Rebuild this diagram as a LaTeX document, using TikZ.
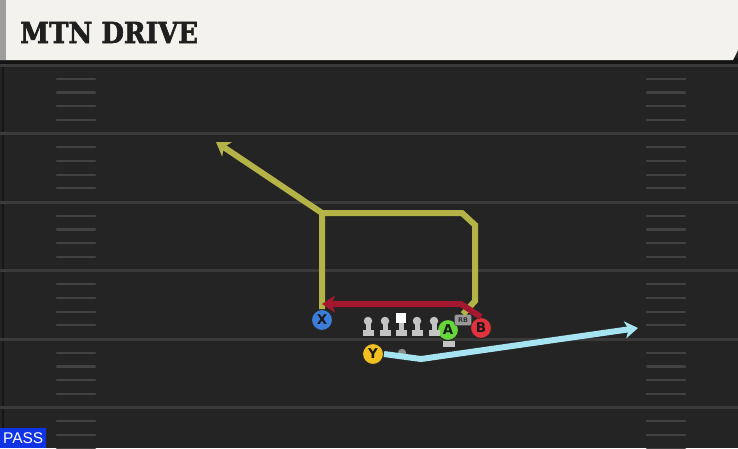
\documentclass[tikz,border=0pt]{standalone}
\usepackage{fontspec}
\setmainfont{DejaVu Sans}
\newfontfamily\titlefont[FakeBold=2]{DejaVu Serif Condensed Bold}
\newfontfamily\passfont{Liberation Sans}
\usetikzlibrary{arrows.meta}
\definecolor{fieldbg}{HTML}{242424}
\definecolor{headbg}{HTML}{F4F2EC}
\definecolor{yardline}{HTML}{3A3A3A}
\definecolor{hashc}{HTML}{424242}
\definecolor{olive}{HTML}{B3B347}
\definecolor{routered}{HTML}{A3182E}
\definecolor{routeblue}{HTML}{A6E4F2}
\definecolor{pblue}{HTML}{3B7DD8}
\definecolor{pyellow}{HTML}{F0C11E}
\definecolor{pgreen}{HTML}{66D63A}
\definecolor{pred}{HTML}{E2323E}
\definecolor{lineman}{HTML}{C4C4C4}
\definecolor{passblue}{HTML}{1133E6}
\tikzset{
  yardl/.style={draw=yardline, line width=3pt},
  hashl/.style={draw=hashc, line width=2.2pt, line cap=round},
  route/.style={line width=6pt, line join=miter, -{Stealth[length=13pt,width=17pt,inset=3.5pt]}},
  routenoarrow/.style={line width=6pt, line join=miter},
  player/.style={circle, draw=black!85, line width=1pt, minimum size=21pt, inner sep=0pt, font=\bfseries\fontsize{13.5}{13.5}\selectfont, text=black!90},
  manhead/.style={circle, fill=lineman, minimum size=8.5pt, inner sep=0pt},
}
\begin{document}
\begin{tikzpicture}[x=1pt,y=-1pt]
\useasboundingbox (0,0) rectangle (738,448);
% field
\fill[fieldbg] (0,0) rectangle (738,448);
\draw[black!40!fieldbg, line width=1.5pt] (3,64) -- (3,448);
% yard lines
\foreach \y in {65,133.5,202,270.5,339,407.5} {
  \draw[yardl] (0,\y) -- (738,\y);
}
% hashes
\foreach \b in {65,133.5,202,270.5,339} {
  \foreach \k in {1,2,3,4} {
    \draw[hashl] (57,\b+\k*13.7) -- (95,\b+\k*13.7);
    \draw[hashl] (647,\b+\k*13.7) -- (685,\b+\k*13.7);
  }
}
\foreach \k in {1,2,3} {
  \draw[hashl] (57,407.5+\k*13.7) -- (95,407.5+\k*13.7);
  \draw[hashl] (647,407.5+\k*13.7) -- (685,407.5+\k*13.7);
}
% header
\fill[black!92] (0,58) rectangle (738,64);
\fill[headbg] (0,0) -- (738,0) -- (738,50) -- (733,60) -- (0,60) -- cycle;
\fill[black!38] (0,0) rectangle (6,60);
\node[anchor=base west, inner sep=0pt, font=\titlefont\fontsize{29}{29}\selectfont, text=black!88] (title) at (20,43) {MTN DRIVE};
% players
\node[player, fill=pblue] (X) at (322,320) {X};
\node[player, fill=pyellow] (Y) at (373,354) {Y};
\node[player, fill=pgreen] (A) at (448,330) {A};
\node[player, fill=pred] (B) at (481,328) {B};
\node[fill=black!40, draw=black!70, line width=0.6pt, rounded corners=2pt, minimum width=17pt, minimum height=11pt, inner sep=0pt, font=\fontsize{6.5}{6.5}\selectfont\bfseries, text=black!80] (RB) at (463,320) {RB};
\fill[lineman] (443,341) rectangle (455,346.5);
% QB marker
\node[circle, fill=black!45, minimum size=8.5pt, inner sep=0pt] (qb) at (402,353) {};
% linemen
\foreach \x/\n in {368/l1,385/l2,417/l4,434/l5} {
  \fill[lineman] (\x-2.5,322) rectangle (\x+2.5,331);
  \fill[lineman] (\x-5.5,329.5) rectangle (\x+5.5,335.5);
  \node[manhead] (\n) at (\x,321) {};
}
\fill[lineman] (401-2.5,320) rectangle (401+2.5,331);
\fill[lineman] (401-5.5,329.5) rectangle (401+5.5,335.5);
\node[fill=white, minimum size=10pt, inner sep=0pt] (C) at (401,317.5) {};
% routes
\coordinate (xturn) at (322,213);
\coordinate (xend) at (216,142);
\draw[olive, route] (X.north) -- (xturn) -- (xend);
\coordinate (o1) at (462,213);
\coordinate (o2) at (475,225);
\coordinate (o3) at (475,301);
\draw[olive, routenoarrow] (RB.north) -- (o3) -- (o2) -- (o1) -- (xturn);
\coordinate (r1) at (461,304);
\coordinate (rend) at (322,304);
\draw[routered, route] (B.north) -- (r1) -- (rend);
\coordinate (b1) at (421,359);
\coordinate (bend) at (638,328);
\draw[routeblue, route] (Y.east) -- (b1) -- (bend);
% pass label
\node[fill=passblue, anchor=south west, minimum width=46pt, minimum height=20pt, inner sep=0pt, text=white, font=\passfont\fontsize{15.5}{15.5}\selectfont] (pass) at (0,448) {PASS};
\end{tikzpicture}
\end{document}
